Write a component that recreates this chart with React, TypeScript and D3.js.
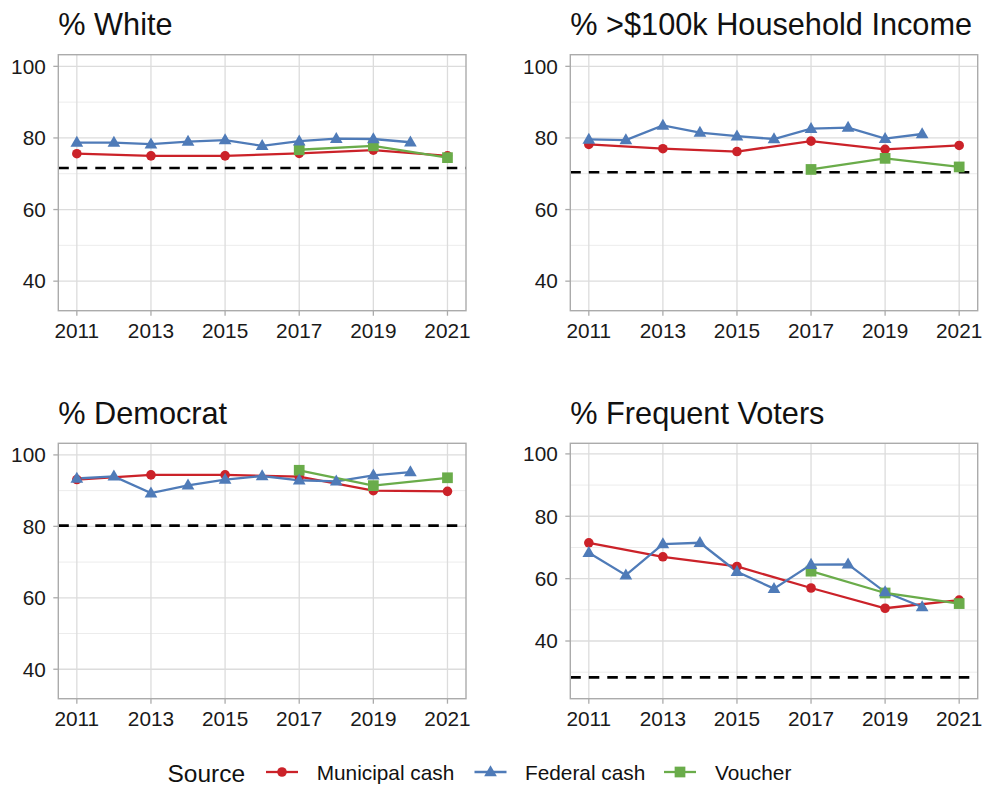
import React from "react";
import * as d3 from "d3";

// ---- data ----
const municipalYears = [2011, 2013, 2015, 2017, 2019, 2021];
const federalYears = [2011, 2012, 2013, 2014, 2015, 2016, 2017, 2018, 2019, 2020];
const voucherYears = [2017, 2019, 2021];

const panelTitles = ["% White", "% >$100k Household Income", "% Democrat", "% Frequent Voters"];
const seriesNames = ["Municipal cash", "Federal cash", "Voucher"];

const whiteMunicipal = [75.6, 75.0, 75.0, 75.7, 76.6, 75.0];
const whiteFederal = [78.7, 78.7, 78.25, 79.0, 79.4, 77.8, 79.1, 79.8, 79.7, 78.8];
const whiteVoucher = [76.7, 77.8, 74.5];
const whiteBenchmark = 71.6;

const incomeMunicipal = [78.2, 77.0, 76.2, 79.1, 76.8, 77.9];
const incomeFederal = [79.6, 79.4, 83.5, 81.5, 80.5, 79.7, 82.6, 82.9, 79.8, 81.1];
const incomeVoucher = [71.2, 74.3, 71.9];
const incomeBenchmark = 70.4;

const democratMunicipal = [93.1, 94.4, 94.4, 93.9, 90.0, 89.8];
const democratFederal = [93.4, 94.0, 89.3, 91.5, 93.1, 94.1, 92.9, 92.6, 94.3, 95.2];
const democratVoucher = [95.7, 91.4, 93.6];
const democratBenchmark = 80.2;

const votersMunicipal = [71.5, 67.0, 63.9, 57.0, 50.5, 53.1];
const votersFederal = [68.3, 61.1, 71.1, 71.5, 62.2, 56.8, 64.5, 64.6, 55.7, 50.9];
const votersVoucher = [62.4, 55.4, 52.0];
const votersBenchmark = 28.35;

const xTicks = [2011, 2013, 2015, 2017, 2019, 2021];
const yTicks = [40, 60, 80, 100];

// ---- styling / layout ----
const COLORS = ["#CB2229", "#4F7BB8", "#6AAC4A"];
const FONT = "'Liberation Sans', Arial, Helvetica, sans-serif";

const panelsData = [
  { title: panelTitles[0], m: whiteMunicipal, f: whiteFederal, v: whiteVoucher, bench: whiteBenchmark, yDomain: [31.75, 103.25], minor: [50, 70, 90] },
  { title: panelTitles[1], m: incomeMunicipal, f: incomeFederal, v: incomeVoucher, bench: incomeBenchmark, yDomain: [31.75, 103.25], minor: [50, 70, 90] },
  { title: panelTitles[2], m: democratMunicipal, f: democratFederal, v: democratVoucher, bench: democratBenchmark, yDomain: [31.75, 103.25], minor: [50, 70, 90] },
  { title: panelTitles[3], m: votersMunicipal, f: votersFederal, v: votersVoucher, bench: votersBenchmark, yDomain: [21.5, 103.4], minor: [30, 50, 70, 90] },
];

const panelBoxes = [
  { x0: 58.3, x1: 466, y0: 54.7, y1: 310.7 },
  { x0: 570.3, x1: 977.7, y0: 54.7, y1: 310.7 },
  { x0: 58.3, x1: 466, y0: 443.3, y1: 698.7 },
  { x0: 570.3, x1: 977.7, y0: 443.3, y1: 698.7 },
];

function Marker({ kind, x, y, color }: { kind: number; x: number; y: number; color: string }) {
  if (kind === 0) return <circle cx={x} cy={y} r={4.8} fill={color} />;
  const sym = kind === 1 ? d3.symbolTriangle : d3.symbolSquare;
  const size = kind === 1 ? 70 : 115;
  const d = d3.symbol(sym, size)() as string;
  return <path d={d} transform={`translate(${x},${y + (kind === 1 ? 0.6 : 0)})`} fill={color} />;
}

function Panel({ p, box }: { p: any; box: any }) {
  const x = d3.scaleLinear().domain([2010.5, 2021.5]).range([box.x0, box.x1]);
  const y = d3.scaleLinear().domain(p.yDomain).range([box.y1, box.y0]);
  const line = d3
    .line<[number, number]>()
    .x((d) => x(d[0]))
    .y((d) => y(d[1]));
  const series: [number, number][][] = [
    municipalYears.map((yr, i) => [yr, p.m[i]]),
    federalYears.map((yr, i) => [yr, p.f[i]]),
    voucherYears.map((yr, i) => [yr, p.v[i]]),
  ];
  const drawOrder = [0, 2, 1];
  return (
    <g>
      <text x={box.x0} y={box.y0 - 19.5} fontSize={30.7} fill="#111" fontFamily={FONT}>
        {p.title}
      </text>
      <rect x={box.x0} y={box.y0} width={box.x1 - box.x0} height={box.y1 - box.y0} fill="#fff" />
      {p.minor.map((t: number) => (
        <line key={"mi" + t} x1={box.x0} x2={box.x1} y1={y(t)} y2={y(t)} stroke="#ececec" strokeWidth={1} />
      ))}
      {yTicks.map((t) => (
        <line key={"my" + t} x1={box.x0} x2={box.x1} y1={y(t)} y2={y(t)} stroke="#dcdcdc" strokeWidth={1.3} />
      ))}
      {xTicks.map((t) => (
        <line key={"mx" + t} x1={x(t)} x2={x(t)} y1={box.y0} y2={box.y1} stroke="#dcdcdc" strokeWidth={1.3} />
      ))}
      <line x1={box.x0} x2={box.x1} y1={y(p.bench)} y2={y(p.bench)} stroke="#000" strokeWidth={2.6} strokeDasharray="10.5,8" />
      {series.map((s, i) => (
        <path key={"l" + i} d={line(s) as string} fill="none" stroke={COLORS[i]} strokeWidth={2.3} />
      ))}
      {drawOrder.map((i) =>
        series[i].map((d, j) => <Marker key={"p" + i + "-" + j} kind={i} x={x(d[0])} y={y(d[1])} color={COLORS[i]} />)
      )}
      <rect x={box.x0} y={box.y0} width={box.x1 - box.x0} height={box.y1 - box.y0} fill="none" stroke="#ababab" strokeWidth={1.4} />
      {yTicks.map((t) => (
        <g key={"yt" + t}>
          <line x1={box.x0 - 5} x2={box.x0} y1={y(t)} y2={y(t)} stroke="#ababab" strokeWidth={1.3} />
          <text x={box.x0 - 12.5} y={y(t)} dy="0.35em" textAnchor="end" fontSize={20.8} fill="#1a1a1a" fontFamily={FONT}>
            {t}
          </text>
        </g>
      ))}
      {xTicks.map((t) => (
        <g key={"xt" + t}>
          <line x1={x(t)} x2={x(t)} y1={box.y1} y2={box.y1 + 5} stroke="#ababab" strokeWidth={1.3} />
          <text x={x(t)} y={box.y1 + 27.5} textAnchor="middle" fontSize={20.8} fill="#1a1a1a" fontFamily={FONT}>
            {t}
          </text>
        </g>
      ))}
    </g>
  );
}

export default function App() {
  const legendKeys = [
    { x0: 266, text: 316.7 },
    { x0: 474.5, text: 525 },
    { x0: 664, text: 715 },
  ];
  return (
    <svg width={984} height={785} style={{ position: "absolute", left: 0, top: 0, background: "#fff" }}>
      <rect width={984} height={785} fill="#fff" />
      {panelsData.map((p, i) => (
        <Panel key={i} p={p} box={panelBoxes[i]} />
      ))}
      <g>
        <text x={167.5} y={781.5} fontSize={24.5} fill="#111" fontFamily={FONT}>
          Source
        </text>
        {seriesNames.map((name, i) => (
          <g key={name}>
            <line x1={legendKeys[i].x0} x2={legendKeys[i].x0 + 32} y1={772} y2={772} stroke={COLORS[i]} strokeWidth={2.3} />
            <Marker kind={i} x={legendKeys[i].x0 + 16} y={772} color={COLORS[i]} />
            <text x={legendKeys[i].text} y={780} fontSize={20.8} fill="#111" fontFamily={FONT}>
              {name}
            </text>
          </g>
        ))}
      </g>
    </svg>
  );
}
